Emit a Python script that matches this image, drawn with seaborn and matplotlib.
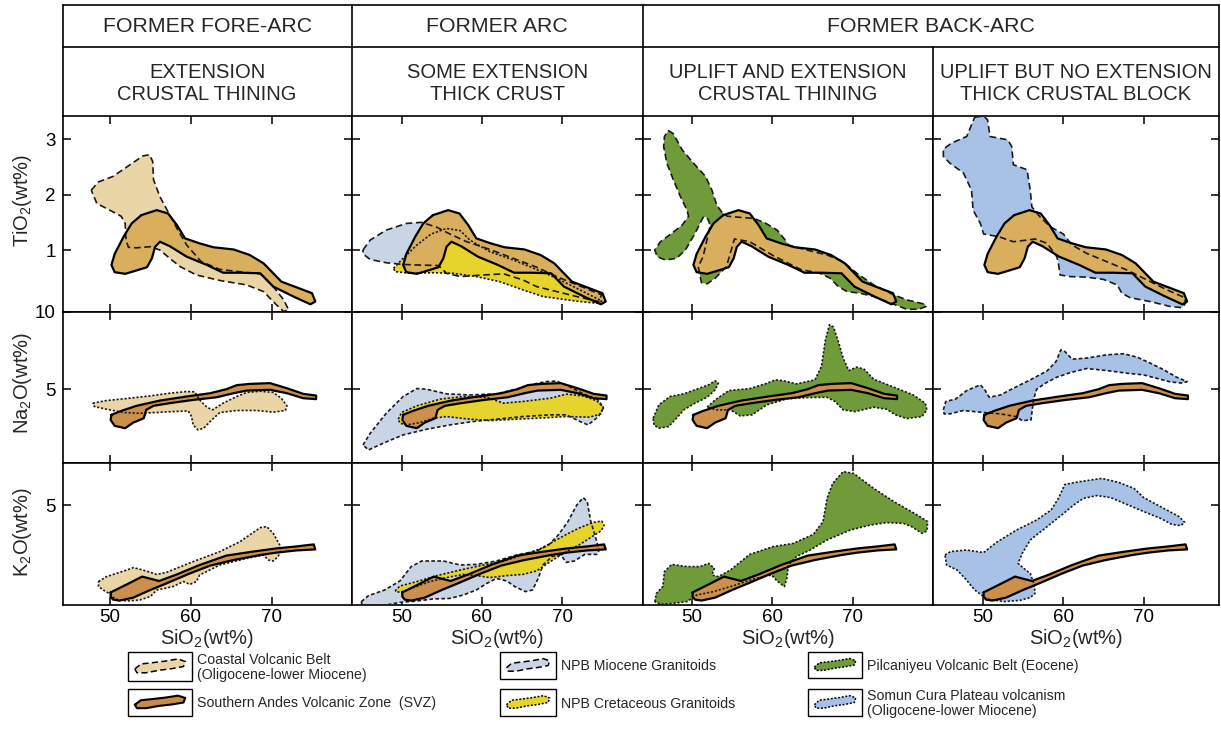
import matplotlib
matplotlib.use("Agg")
import matplotlib.pyplot as plt
from matplotlib.patches import Rectangle
import seaborn as sns

# ---------------------------------------------------------------------------
# Compositional fields: SiO2 (wt%) against TiO2, Na2O and K2O (wt%)
# ---------------------------------------------------------------------------
# Southern Andes Volcanic Zone (SVZ)
svz_tio2_sio2 = [53.9, 55.8, 57.2, 58.3, 59.3, 61.1, 62.8, 65.3, 67.3, 69.0, 70.2, 71.2, 75.0, 75.4, 74.8,
                 72.7, 70.2, 68.6, 66.1, 64.0, 62.0, 59.5, 57.4, 56.2, 55.6, 55.2, 54.6, 53.5, 51.9, 50.6,
                 50.2, 50.6, 51.7, 52.7]
svz_tio2 = [1.63, 1.72, 1.66, 1.45, 1.21, 1.12, 1.05, 1.01, 0.91, 0.76, 0.58, 0.43, 0.22, 0.07, 0.02,
            0.16, 0.34, 0.58, 0.59, 0.59, 0.73, 0.88, 1.07, 1.15, 1.06, 0.85, 0.69, 0.64, 0.57, 0.60,
            0.73, 0.93, 1.24, 1.48]
svz_na2o_sio2 = [50.2, 51.4, 53.3, 56.2, 59.5, 62.4, 64.4, 65.7, 67.3, 69.8, 71.9, 73.9, 75.5, 75.5, 73.9,
                 71.9, 69.8, 66.9, 65.3, 63.2, 60.3, 57.4, 55.4, 54.5, 54.2, 52.9, 51.9, 50.6, 50.1]
svz_na2o = [3.35, 3.60, 3.93, 4.27, 4.53, 4.74, 5.00, 5.26, 5.34, 5.39, 5.06, 4.70, 4.59, 4.36, 4.42,
            4.74, 4.96, 4.91, 4.74, 4.48, 4.31, 4.10, 3.93, 3.67, 3.13, 2.85, 2.49, 2.64, 3.02]
svz_k2o_sio2 = [50.1, 52.1, 54.0, 56.1, 58.3, 61.1, 64.4, 67.7, 70.6, 73.1, 75.2, 75.4, 73.1, 70.6, 68.6,
                65.3, 62.4, 59.9, 57.0, 55.0, 52.9, 51.2, 50.4, 50.1]
svz_k2o = [0.63, 1.03, 1.42, 1.20, 1.53, 2.00, 2.47, 2.67, 2.83, 2.93, 3.03, 2.78, 2.73, 2.62, 2.50,
           2.25, 1.97, 1.58, 1.08, 0.75, 0.37, 0.22, 0.27, 0.42]

# Coastal Volcanic Belt (Oligocene - lower Miocene)
coastal_tio2_sio2 = [47.7, 48.6, 50.4, 52.5, 54.1, 54.9, 55.3, 55.4, 56.2, 57.2, 58.3, 59.5, 61.3, 63.6, 66.5,
                     68.6, 70.2, 71.5, 72.1, 71.5, 70.6, 69.0, 66.9, 63.6, 60.7, 58.7, 57.4, 56.2, 55.0, 53.3,
                     52.3, 52.0, 51.9, 51.4, 50.0, 48.4]
coastal_tio2 = [2.08, 2.23, 2.33, 2.54, 2.70, 2.72, 2.60, 2.27, 1.96, 1.69, 1.39, 1.09, 0.79, 0.65, 0.60,
                0.57, 0.34, 0.10, -0.08, -0.11, 0.01, 0.25, 0.37, 0.45, 0.55, 0.70, 0.85, 1.00, 1.06, 1.04,
                1.05, 1.18, 1.48, 1.61, 1.72, 1.84]
coastal_na2o_sio2 = [47.9, 49.6, 52.1, 55.0, 57.4, 59.5, 60.5, 61.1, 62.0, 62.7, 64.0, 65.7, 66.9, 68.6, 70.2,
                     71.2, 71.9, 71.7, 70.2, 68.2, 65.7, 63.6, 62.6, 61.6, 60.9, 60.3, 60.1, 59.7, 57.8, 55.8,
                     53.7, 51.7, 49.6, 48.1]
coastal_na2o = [4.10, 4.27, 4.40, 4.57, 4.74, 4.85, 4.83, 4.31, 3.84, 3.67, 4.10, 4.53, 4.79, 4.87, 4.79,
                4.42, 3.93, 3.63, 3.52, 3.63, 3.63, 3.50, 3.02, 2.49, 2.38, 2.70, 3.24, 3.60, 3.56, 3.50,
                3.45, 3.50, 3.71, 3.88]
coastal_k2o_sio2 = [48.6, 49.6, 52.1, 52.9, 54.1, 55.8, 57.0, 60.3, 63.6, 66.1, 68.6, 69.4, 70.2, 71.0, 71.2,
                    70.8, 70.2, 69.6, 69.0, 66.9, 63.6, 61.1, 60.7, 59.9, 59.1, 57.8, 55.8, 55.0, 53.7, 52.1,
                    50.6, 50.2, 49.2, 48.6]
coastal_k2o = [1.17, 1.42, 1.75, 1.87, 1.75, 1.53, 1.63, 2.17, 2.67, 3.17, 3.87, 3.92, 3.58, 3.00, 2.75,
               2.42, 2.20, 2.25, 2.50, 2.33, 2.00, 1.50, 1.17, 1.03, 1.17, 0.92, 0.75, 0.42, 0.25, 0.20,
               0.30, 0.50, 0.75, 0.92]

# NPB Miocene granitoids
miocene_tio2_sio2 = [45.2, 46.1, 48.1, 50.6, 52.5, 54.4, 56.0, 58.1, 61.0, 63.9, 66.8, 69.3, 72.2, 74.9, 74.5,
                     71.8, 69.3, 66.8, 65.1, 62.7, 60.2, 57.3, 55.6, 54.6, 51.9, 50.2, 48.1, 46.1, 45.2]
miocene_tio2 = [1.00, 1.18, 1.36, 1.48, 1.50, 1.41, 1.29, 1.15, 1.01, 0.85, 0.69, 0.52, 0.35, 0.19, 0.07,
                0.16, 0.25, 0.34, 0.46, 0.57, 0.55, 0.52, 0.58, 0.72, 0.73, 0.74, 0.77, 0.83, 0.93]
miocene_na2o_sio2 = [45.2, 46.1, 48.1, 50.2, 51.9, 53.1, 55.6, 58.5, 61.8, 64.3, 66.0, 68.0, 69.3, 70.7, 72.6,
                     74.5, 75.1, 74.5, 73.2, 72.2, 70.5, 68.5, 65.1, 61.8, 58.9, 56.0, 53.1, 50.2, 47.7, 45.9]
miocene_na2o = [1.41, 2.16, 3.45, 4.53, 5.04, 5.00, 4.70, 4.63, 4.70, 5.00, 5.28, 5.49, 5.52, 5.21, 4.70,
                4.31, 3.78, 3.24, 2.70, 2.92, 3.35, 3.35, 3.24, 3.07, 2.92, 2.70, 2.42, 2.06, 1.52, 1.09]
miocene_k2o_sio2 = [45.0, 45.9, 47.9, 49.8, 51.2, 52.5, 55.2, 57.3, 59.3, 61.8, 64.3, 66.8, 68.3, 69.5, 70.7,
                    71.8, 72.6, 73.1, 73.5, 74.1, 74.6, 74.3, 72.8, 71.5, 70.5, 69.8, 68.7, 67.6, 67.0, 66.3,
                    65.4, 64.1, 63.1, 61.8, 60.6, 59.3, 57.7, 56.0, 53.9, 51.9, 49.8, 47.7, 45.9, 45.1]
miocene_k2o = [0.17, 0.47, 0.75, 1.20, 1.92, 2.20, 2.20, 2.00, 2.03, 2.20, 2.50, 2.70, 3.00, 3.50, 4.17,
               5.00, 5.37, 5.17, 4.25, 3.42, 2.75, 2.53, 2.53, 2.20, 2.13, 2.50, 2.42, 2.00, 1.33, 0.75,
               0.67, 0.92, 1.20, 1.33, 1.08, 0.75, 0.50, 0.33, 0.30, 0.20, 0.13, -0.03, -0.12, -0.03]

# NPB Cretaceous granitoids
cretaceous_tio2_sio2 = [49.0, 50.2, 51.9, 53.7, 55.6, 57.3, 58.5, 61.0, 63.9, 66.8, 69.3, 72.2, 74.9, 74.3,
                        72.2, 70.1, 67.6, 65.1, 62.2, 59.3, 56.4, 53.9, 51.0, 49.2]
cretaceous_tio2 = [0.67, 0.85, 1.09, 1.29, 1.39, 1.35, 1.18, 0.97, 0.82, 0.65, 0.49, 0.28, 0.08, 0.04,
                   0.07, 0.11, 0.16, 0.28, 0.43, 0.52, 0.58, 0.59, 0.58, 0.61]
cretaceous_na2o_sio2 = [49.6, 50.0, 51.9, 54.8, 57.7, 60.6, 62.7, 65.1, 68.5, 70.5, 72.6, 74.3, 75.1, 74.8,
                        73.4, 70.5, 67.6, 64.3, 61.0, 58.1, 55.6, 53.9, 52.3, 50.6, 49.8]
cretaceous_na2o = [3.07, 3.50, 3.93, 4.36, 4.53, 4.48, 4.10, 4.21, 4.42, 4.68, 4.57, 4.25, 3.84, 3.41,
                   3.20, 3.24, 3.15, 3.07, 2.98, 3.09, 3.24, 3.13, 2.85, 2.70, 2.81]
cretaceous_k2o_sio2 = [49.2, 49.8, 51.9, 54.4, 57.3, 60.2, 62.7, 65.1, 67.2, 68.9, 70.5, 72.2, 73.9, 74.9,
                       75.2, 74.8, 73.7, 72.2, 70.5, 68.5, 66.8, 65.1, 63.1, 61.0, 59.3, 57.7, 55.6, 53.5,
                       51.5, 49.8]
cretaceous_k2o = [0.70, 0.95, 1.17, 1.47, 1.75, 2.00, 2.20, 2.50, 2.80, 3.17, 3.53, 3.87, 4.13, 4.20,
                  3.97, 3.70, 3.42, 3.03, 2.67, 2.17, 1.70, 1.53, 1.47, 1.37, 1.47, 1.53, 1.37, 1.17,
                  0.87, 0.63]

# Pilcaniyeu Volcanic Belt (Eocene)
pilcaniyeu_tio2_sio2 = [47.1, 47.7, 48.8, 50.2, 51.7, 52.5, 53.1, 53.7, 54.4, 56.0, 57.7, 59.1, 60.6, 61.6,
                        62.0, 64.3, 66.8, 68.8, 70.5, 72.6, 75.1, 76.7, 79.0, 79.1, 78.2, 76.7, 75.1, 72.6,
                        70.9, 69.3, 68.2, 67.2, 65.9, 63.5, 60.1, 57.2, 55.3, 54.3, 52.9, 51.9, 51.2, 51.0,
                        50.8, 51.4, 52.3, 51.9, 51.4, 50.4, 49.2, 48.1, 46.7, 45.7, 45.4, 46.1, 47.5, 48.8,
                        49.6, 49.4, 48.6, 47.7, 46.9, 46.5, 46.6]
pilcaniyeu_tio2 = [3.16, 3.10, 2.81, 2.57, 2.33, 2.08, 1.81, 1.69, 1.61, 1.59, 1.57, 1.49, 1.36, 1.18,
                   1.09, 1.00, 0.91, 0.79, 0.58, 0.37, 0.19, 0.10, 0.02, -0.02, -0.07, -0.07, 0.02, 0.16,
                   0.22, 0.25, 0.34, 0.49, 0.58, 0.65, 0.90, 1.15, 1.20, 0.70, 0.49, 0.39, 0.41, 0.55,
                   0.70, 0.88, 1.45, 1.59, 1.59, 1.30, 1.00, 0.85, 0.82, 0.88, 1.00, 1.15, 1.30, 1.45,
                   1.61, 1.72, 1.96, 2.27, 2.57, 2.87, 3.05]
pilcaniyeu_na2o_sio2 = [51.9, 52.9, 54.6, 57.2, 59.1, 60.4, 61.4, 63.0, 65.3, 66.1, 66.6, 67.1, 67.6, 68.2,
                        68.8, 69.5, 70.5, 71.4, 72.6, 75.1, 77.5, 79.0, 79.2, 78.6, 76.7, 75.3, 74.2, 72.6,
                        70.3, 68.8, 67.8, 66.8, 64.3, 61.8, 59.3, 57.5, 56.0, 54.8, 53.1]
pilcaniyeu_na2o = [3.84, 4.31, 4.91, 5.04, 5.34, 5.60, 5.54, 5.34, 5.60, 6.46, 8.18, 9.15, 9.00, 8.07,
                   7.00, 6.20, 6.42, 6.29, 5.64, 5.13, 4.63, 4.10, 3.67, 3.24, 3.11, 3.35, 3.71, 3.84,
                   3.56, 3.67, 4.21, 4.48, 4.46, 4.38, 3.99, 3.35, 3.28, 3.67, 3.67]
pilcaniyeu_lobe_na2o_sio2 = [45.2, 45.9, 47.3, 49.0, 50.6, 52.1, 52.9, 53.3, 52.9, 51.9, 50.4, 49.0, 48.1,
                             47.1, 45.9, 45.3]
pilcaniyeu_lobe_na2o = [3.13, 3.99, 4.53, 4.70, 5.00, 5.28, 5.54, 5.39, 4.96, 4.48, 4.10, 3.67, 3.13,
                        2.59, 2.49, 2.70]
pilcaniyeu_k2o_sio2 = [45.4, 45.6, 46.4, 46.6, 47.5, 49.4, 51.0, 52.1, 52.8, 52.5, 53.3, 54.8, 57.2, 60.1,
                       62.6, 65.1, 66.3, 66.8, 67.5, 68.8, 70.1, 72.6, 75.1, 78.0, 79.3, 79.2, 78.6, 77.3,
                       76.3, 74.2, 72.2, 69.7, 66.8, 64.7, 63.0, 62.0, 61.8, 61.5, 60.6, 59.9, 57.7, 55.2,
                       52.7, 50.6, 49.4, 47.7, 46.1]
pilcaniyeu_k2o = [0.17, 0.58, 0.92, 1.67, 2.03, 1.92, 1.92, 2.08, 1.83, 1.50, 1.42, 1.75, 2.53, 2.92,
                  3.08, 3.53, 4.17, 5.33, 6.08, 6.67, 6.58, 5.83, 5.17, 4.50, 4.17, 3.70, 3.58, 3.92,
                  4.08, 4.12, 4.00, 3.75, 3.25, 2.75, 2.42, 2.00, 1.33, 0.92, 1.20, 1.50, 1.30, 0.97,
                  0.67, 0.50, 0.17, 0.08, 0.03]

# Somun Cura Plateau volcanism (Oligocene - lower Miocene)
somun_tio2_sio2 = [49.0, 50.1, 50.6, 50.9, 53.1, 53.6, 53.8, 55.5, 55.9, 56.1, 57.1, 58.4, 60.0, 61.1, 62.9,
                   65.4, 67.9, 70.4, 72.9, 75.1, 75.2, 74.8, 73.3, 70.8, 68.3, 67.3, 66.7, 65.0, 62.9, 60.9,
                   59.6, 59.4, 59.2, 58.0, 56.5, 55.5, 53.8, 52.0, 50.1, 49.7, 48.8, 48.6, 47.6, 45.9, 45.1,
                   45.1, 46.1, 48.0, 48.6]
somun_tio2 = [3.40, 3.42, 3.35, 3.05, 2.99, 2.87, 2.54, 2.45, 2.08, 1.78, 1.60, 1.42, 1.29, 1.09, 0.94,
              0.79, 0.64, 0.46, 0.28, 0.14, 0.04, -0.04, -0.02, 0.07, 0.14, 0.22, 0.37, 0.47, 0.51, 0.52,
              0.55, 0.76, 0.88, 1.12, 1.20, 1.18, 1.15, 1.24, 1.29, 1.48, 1.72, 2.08, 2.39, 2.57, 2.69,
              2.82, 2.93, 3.05, 3.26]
somun_na2o_sio2 = [45.1, 45.4, 46.6, 48.0, 49.7, 50.2, 50.8, 52.2, 53.8, 55.9, 58.0, 59.1, 59.7, 60.2, 61.1,
                   62.9, 65.4, 67.5, 69.2, 70.8, 72.5, 74.1, 75.4, 74.8, 73.3, 71.7, 70.0, 67.9, 65.4, 62.9,
                   60.9, 59.2, 57.8, 56.7, 56.3, 56.1, 56.0, 54.9, 54.1, 52.2, 50.1, 47.6, 45.9, 45.2]
somun_na2o = [3.67, 4.21, 4.36, 4.91, 5.28, 5.00, 4.48, 4.63, 5.06, 5.60, 6.18, 6.78, 7.53, 7.43, 6.93,
              7.00, 7.21, 7.28, 7.06, 6.68, 6.25, 5.77, 5.49, 5.39, 5.47, 5.69, 5.92, 6.03, 6.20, 6.33,
              6.07, 5.77, 5.39, 5.00, 4.31, 3.45, 3.02, 2.98, 3.24, 3.41, 3.50, 3.63, 3.41, 3.41]
somun_k2o_sio2 = [45.3, 46.0, 48.0, 50.1, 51.7, 54.2, 56.7, 58.5, 59.4, 60.2, 62.1, 64.8, 66.9, 68.8, 70.0,
                  72.5, 74.4, 75.1, 74.6, 73.5, 72.1, 70.0, 67.9, 65.9, 64.2, 62.5, 61.3, 59.8, 58.0, 55.9,
                  54.9, 54.4, 55.1, 55.9, 56.4, 56.5, 55.9, 54.6, 52.6, 50.5, 49.0, 47.8, 46.8, 45.5]
somun_k2o = [2.50, 2.67, 2.75, 2.62, 3.13, 3.75, 4.25, 4.75, 5.33, 6.03, 6.17, 6.33, 6.13, 5.83, 5.37,
             4.83, 4.42, 4.13, 3.97, 4.03, 4.33, 4.67, 5.03, 5.37, 5.47, 5.33, 5.00, 4.50, 3.92, 3.25,
             2.58, 2.08, 1.83, 1.58, 1.00, 0.58, 0.37, 0.23, 0.17, 0.30, 0.75, 1.33, 1.75, 2.00]

# Axis ticks and labels
sio2_ticks = [50, 60, 70]
oxide_ticks = [[1, 2, 3], [5, 10], [5]]
oxide_labels = ["TiO$_2$(wt%)", "Na$_2$O(wt%)", "K$_2$O(wt%)"]
sio2_label = "SiO$_2$(wt%)"

group_titles = ["FORMER FORE-ARC", "FORMER ARC", "FORMER BACK-ARC"]
setting_titles = ["EXTENSION\nCRUSTAL THINING", "SOME EXTENSION\nTHICK CRUST",
                  "UPLIFT AND EXTENSION\nCRUSTAL THINING", "UPLIFT BUT NO EXTENSION\nTHICK CRUSTAL BLOCK"]

legend_labels = {
    "coastal": "Coastal Volcanic Belt\n(Oligocene-lower Miocene)",
    "svz": "Southern Andes Volcanic Zone  (SVZ)",
    "miocene": "NPB Miocene Granitoids",
    "cretaceous": "NPB Cretaceous Granitoids",
    "pilcaniyeu": "Pilcaniyeu Volcanic Belt (Eocene)",
    "somun": "Somun Cura Plateau volcanism\n(Oligocene-lower Miocene)",
}

# ---------------------------------------------------------------------------
FIELDS = {
    "svz": [[(svz_tio2_sio2, svz_tio2)], [(svz_na2o_sio2, svz_na2o)], [(svz_k2o_sio2, svz_k2o)]],
    "coastal": [[(coastal_tio2_sio2, coastal_tio2)], [(coastal_na2o_sio2, coastal_na2o)],
                [(coastal_k2o_sio2, coastal_k2o)]],
    "miocene": [[(miocene_tio2_sio2, miocene_tio2)], [(miocene_na2o_sio2, miocene_na2o)],
                [(miocene_k2o_sio2, miocene_k2o)]],
    "cretaceous": [[(cretaceous_tio2_sio2, cretaceous_tio2)], [(cretaceous_na2o_sio2, cretaceous_na2o)],
                   [(cretaceous_k2o_sio2, cretaceous_k2o)]],
    "pilcaniyeu": [[(pilcaniyeu_tio2_sio2, pilcaniyeu_tio2)],
                   [(pilcaniyeu_na2o_sio2, pilcaniyeu_na2o), (pilcaniyeu_lobe_na2o_sio2, pilcaniyeu_lobe_na2o)],
                   [(pilcaniyeu_k2o_sio2, pilcaniyeu_k2o)]],
    "somun": [[(somun_tio2_sio2, somun_tio2)], [(somun_na2o_sio2, somun_na2o)], [(somun_k2o_sio2, somun_k2o)]],
}
COLUMN_FIELDS = [["coastal"], ["miocene", "cretaceous"], ["pilcaniyeu"], ["somun"]]

FILL = {"coastal": "#e9d5a6", "miocene": "#c9d5e5", "cretaceous": "#e6d42c",
        "pilcaniyeu": "#6f9b3a", "somun": "#a7c1e7"}
SVZ_FILL = ["#d9ae5d", "#cd904c", "#cd904c"]
DASHED = (0, (4.0, 2.2))
DOTTED = (0, (1.3, 1.1))
SHORTDASH = (0, (2.2, 1.4))
EDGE = {
    "coastal": [DASHED, DOTTED, DOTTED],
    "miocene": [DASHED, SHORTDASH, SHORTDASH],
    "cretaceous": [DOTTED, DOTTED, DOTTED],
    "pilcaniyeu": [DASHED, DOTTED, DOTTED],
    "somun": [DASHED, SHORTDASH, DOTTED],
}

# ---------------------------------------------------------------------------
sns.set_theme(style="ticks")
plt.rcParams["font.family"] = ["Liberation Sans", "DejaVu Sans"]
plt.rcParams["mathtext.fontset"] = "custom"
plt.rcParams["mathtext.rm"] = "Liberation Sans"
plt.rcParams["mathtext.default"] = "regular"

W, H = 1221, 748
fig = plt.figure(figsize=(W / 100, H / 100), dpi=100)
fig.patch.set_facecolor("white")


def px_rect(x0, y0, x1, y1):
    return [x0 / W, 1 - y1 / H, (x1 - x0) / W, (y1 - y0) / H]


# overlay in pixel units for the header frame, axis titles and key
ov = fig.add_axes([0, 0, 1, 1])
ov.set_xlim(0, W)
ov.set_ylim(H, 0)
ov.axis("off")

COLS = [(62.5, 351.7), (351.7, 642.7), (642.7, 933.3), (933.3, 1218.5)]
ROWS = [(116, 311.5), (311.5, 463), (463, 605)]
XLIMS = [(44.15, 79.9), (43.8, 80.0), (43.9, 80.0), (43.85, 79.3)]
YLIMS = [(-0.11, 3.42), (0.25, 10.0), (0.0, 7.1)]

# header frame
LEFT, RIGHT = COLS[0][0], COLS[3][1]
for yy in (5, 47):
    ov.plot([LEFT, RIGHT], [yy, yy], color="black", lw=1.2)
for xx in (LEFT, COLS[1][0], COLS[2][0], RIGHT):
    ov.plot([xx, xx], [5, 116], color="black", lw=1.2)
ov.plot([COLS[3][0], COLS[3][0]], [47, 116], color="black", lw=1.2)

group_spans = [(COLS[0][0], COLS[0][1]), (COLS[1][0], COLS[1][1]), (COLS[2][0], COLS[3][1])]
for (a, b), title in zip(group_spans, group_titles):
    ov.text((a + b) / 2, 26, title, ha="center", va="center", fontsize=15.3)
for (a, b), title in zip(COLS, setting_titles):
    ov.text((a + b) / 2, 83, title, ha="center", va="center", fontsize=14.5, linespacing=1.2)

# panels
for r in range(3):
    for c in range(4):
        ax = fig.add_axes(px_rect(COLS[c][0], ROWS[r][0], COLS[c][1], ROWS[r][1]))
        ax.set_facecolor("white")
        names = COLUMN_FIELDS[c]
        for z, name in enumerate(names):
            for xs, ys in FIELDS[name][r]:
                ax.fill(xs, ys, color=FILL[name], lw=0, zorder=1 + z * 0.1)
        for xs, ys in FIELDS["svz"][r]:
            ax.fill(xs, ys, color=SVZ_FILL[r], lw=0, zorder=2)
        for name in names:
            for xs, ys in FIELDS[name][r]:
                sns.lineplot(x=list(xs) + [xs[0]], y=list(ys) + [ys[0]], sort=False, estimator=None,
                             color="#1a1a1a", linewidth=1.2, linestyle=EDGE[name][r], ax=ax, zorder=3)
        for xs, ys in FIELDS["svz"][r]:
            sns.lineplot(x=list(xs) + [xs[0]], y=list(ys) + [ys[0]], sort=False, estimator=None,
                         color="black", linewidth=1.6, ax=ax, zorder=4)
        ax.set_xlim(*XLIMS[c])
        ax.set_ylim(*YLIMS[r])
        ax.set_xticks(sio2_ticks)
        ax.set_yticks(oxide_ticks[r])
        ax.set_xlabel("")
        ax.set_ylabel("")
        ax.tick_params(direction="in", length=6, width=1.1, top=True, right=True,
                       labelsize=13.5, pad=5, color="black", labelcolor="black")
        ax.tick_params(axis="x", pad=3)
        if r < 2:
            ax.tick_params(labelbottom=False)
        if c > 0:
            ax.tick_params(labelleft=False)
        for sp in ax.spines.values():
            sp.set_linewidth(1.2)
            sp.set_color("black")
            sp.set_visible(True)

# axis titles
for (a, b) in COLS:
    ov.text((a + b) / 2, 639, sio2_label, ha="center", va="center", fontsize=14.5)
for (y0, y1), lab, yc in zip(ROWS, oxide_labels, [200, 383, 532]):
    ov.text(22, yc, lab, ha="center", va="center", rotation=90, fontsize=14.5)

# key
BLOB_U = [0.05, 0.16, 0.36, 0.60, 0.82, 0.95, 0.92, 0.72, 0.48, 0.25, 0.09]
BLOB_V = [0.62, 0.38, 0.32, 0.24, 0.14, 0.26, 0.50, 0.60, 0.68, 0.80, 0.80]
KEY = [
    ("coastal", 128, 652, 64, 29, FILL["coastal"], DASHED),
    ("svz", 128, 689, 64, 27, "#c98b4a", "-"),
    ("miocene", 500, 652, 56, 27, FILL["miocene"], DASHED),
    ("cretaceous", 500, 689, 56, 27, FILL["cretaceous"], DOTTED),
    ("pilcaniyeu", 808, 652, 54, 26, FILL["pilcaniyeu"], DOTTED),
    ("somun", 808, 689, 54, 27, FILL["somun"], DOTTED),
]
for name, x0, y0, w, h, fc, ls in KEY:
    ov.add_patch(Rectangle((x0, y0), w, h, fill=False, ec="black", lw=1.0))
    pad = 4
    bx = [x0 + pad + u * (w - 2 * pad) for u in BLOB_U]
    by = [y0 + pad + v * (h - 2 * pad) for v in BLOB_V]
    ov.fill(bx, by, color=fc, lw=0)
    ov.plot(bx + [bx[0]], by + [by[0]], color="black", lw=1.1 if ls != "-" else 1.5, linestyle=ls)
    ov.text(x0 + w + 5, y0 + h / 2 + 1, legend_labels[name], ha="left", va="center",
            fontsize=10.2, linespacing=1.15)

fig.savefig("out.png", dpi=100, facecolor="white")
